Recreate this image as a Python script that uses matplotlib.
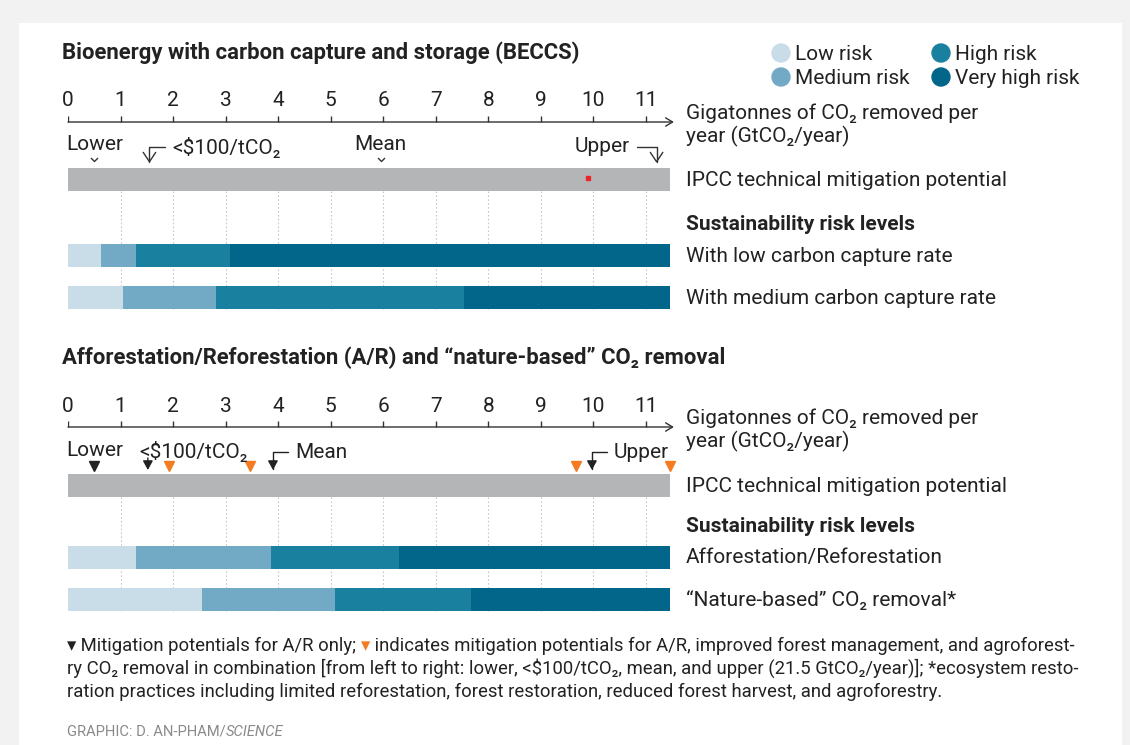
import matplotlib
matplotlib.use("Agg")
import matplotlib.pyplot as plt
from matplotlib.patches import Rectangle, Circle
from matplotlib.path import Path
from matplotlib.markers import MarkerStyle

plt.rcParams['font.family'] = ['Roboto', 'DejaVu Sans']

# Data (GtCO2/year)___________________________________________________________________
ticks = list(range(0, 12))
axis_max = 11.45
risk_names = ["Low risk", "Medium risk", "High risk", "Very high risk"]
risk_colors = ["#c9dde8", "#72aac6", "#19809f", "#02668a"]

beccs_rows = ["With low carbon capture rate", "With medium carbon capture rate"]
beccs_low_capture = [0.62, 1.30, 3.09, 11.45]
beccs_med_capture = [1.04, 2.81, 7.54, 11.45]
beccs_lower, beccs_100, beccs_mean, beccs_upper = 0.5, 1.55, 5.95, 11.2
beccs_dot = 9.9

ar_rows = ["Afforestation/Reforestation", "\u201cNature-based\u201d CO\u2082 removal*"]
ar_bounds = [1.29, 3.87, 6.30, 11.45]
nature_bounds = [2.55, 5.08, 7.66, 11.45]
ar_lower, ar_100, ar_mean, ar_upper = 0.5, 1.52, 3.90, 9.97
combo_marks = [1.93, 3.47, 9.66, 11.45]

ink = "#222222"
orange = "#f47b20"
gray_bar = "#b4b5b7"
fs = 15

# Figure with pixel overlay ________________________________________________________
W, H = 1130, 745
fig = plt.figure(figsize=(W / 100, H / 100), dpi=100, facecolor="#f2f2f2")
deco = fig.add_axes([0, 0, 1, 1])
deco.set_xlim(0, W)
deco.set_ylim(H, 0)
deco.axis("off")
deco.add_patch(Rectangle((19, 23), 1103, 730, facecolor="white", edgecolor="none"))

x0, unit = 68, 52.55
ax = fig.add_axes([x0 / W, 0, 12 * unit / W, 1])
ax.set_xlim(0, 12)
ax.set_ylim(H, 0)
ax.axis("off")
px = deco.transData

chev = MarkerStyle(Path([(-1, 1), (0, 0), (1, 1)], [Path.MOVETO, Path.LINETO, Path.LINETO]),
                   fillstyle="none")


def draw_axis(title, y_title, y_axis):
    deco.text(62, y_title, title, fontsize=15.9, weight="bold", va="center", color=ink)
    for t in ticks:
        ax.text(t, y_axis - 21, str(t), ha="center", va="center", fontsize=fs, color=ink)
    ax.vlines(ticks, y_axis - 6, y_axis, color="#333333", lw=1)
    ax.annotate("", xy=(11.53, y_axis), xytext=(0, y_axis),
                arrowprops=dict(arrowstyle="->,head_length=0.5,head_width=0.3", color="#333333",
                                lw=1, shrinkA=0, shrinkB=0))
    deco.text(686, y_axis + 3, "Gigatonnes of CO\u2082 removed per\nyear (GtCO\u2082/year)",
              va="center", fontsize=fs, color=ink, linespacing=1.2)


def draw_bars(gray_y, sus_y, row_ys, rows, bounds_list):
    ax.barh(gray_y, axis_max, left=0, height=23, color=gray_bar, zorder=2)
    deco.text(686, gray_y + 1, "IPCC technical mitigation potential", va="center", fontsize=fs, color=ink)
    deco.text(686, sus_y, "Sustainability risk levels", va="center", fontsize=fs, weight="semibold", color=ink)
    ax.vlines(ticks[1:], gray_y + 11.5, row_ys[-1] + 11.5, colors="#c8c8c8",
              linestyles=(0, (1.5, 2)), lw=0.8, zorder=1)
    for y, name, bounds in zip(row_ys, rows, bounds_list):
        lefts = [0] + bounds[:-1]
        widths = [b - l for b, l in zip(bounds, lefts)]
        ax.barh([y] * 4, widths, left=lefts, height=23, color=risk_colors, zorder=2)
        deco.text(686, y + 1, name, va="center", fontsize=fs, color=ink)


# Panel 1: BECCS _____________________________________________________________________
draw_axis("Bioenergy with carbon capture and storage (BECCS)", 53, 122)
draw_bars(179, 225, [255, 297], beccs_rows, [beccs_low_capture, beccs_med_capture])

open_arrow = dict(arrowstyle="->,head_length=0.45,head_width=0.3", color="#333333", lw=1,
                  connectionstyle="angle,angleA=0,angleB=90,rad=0", shrinkA=3, shrinkB=0)
ax.text(beccs_lower, 145, "Lower", ha="center", va="center", fontsize=fs, color=ink)
ax.plot(beccs_lower, 161, marker=chev, ms=5, mec="#333333", mew=1)
ax.text(beccs_mean, 145, "Mean", ha="center", va="center", fontsize=fs, color=ink)
ax.plot(beccs_mean, 161, marker=chev, ms=5, mec="#333333", mew=1)
ax.annotate("<$100/tCO\u2082", xy=(beccs_100, 163), xytext=(172, 147), textcoords=px,
            ha="left", va="center", fontsize=fs, color=ink,
            arrowprops=dict(open_arrow, relpos=(0, 0.5)))
ax.annotate("Upper", xy=(beccs_upper, 163), xytext=(630, 147), textcoords=px,
            ha="right", va="center", fontsize=fs, color=ink,
            arrowprops=dict(open_arrow, relpos=(1, 0.5)))
ax.plot(beccs_dot, 178, marker="s", ms=2.5, color="#e8262a", zorder=3)

# Panel 2: A/R ________________________________________________________________________
draw_axis("Afforestation/Reforestation (A/R) and \u201cnature-based\u201d CO\u2082 removal", 358, 427)
draw_bars(485, 527, [557, 599], ar_rows, [ar_bounds, nature_bounds])

solid_arrow = dict(arrowstyle="-|>,head_length=0.55,head_width=0.3", color="#222222", lw=1,
                   connectionstyle="angle,angleA=0,angleB=90,rad=0", shrinkA=3, shrinkB=0,
                   mutation_scale=10)
ax.text(ar_lower, 451, "Lower", ha="center", va="center", fontsize=fs, color=ink)
ax.plot(ar_lower, 466, marker="v", ms=6.5, color="#222222", lw=0)
ax.text(139, 451, "<$100/tCO\u2082", transform=px, ha="left", va="center", fontsize=fs, color=ink)
ax.annotate("", xy=(ar_100, 470), xytext=(ar_100, 458),
            arrowprops=dict(solid_arrow, connectionstyle="arc3", shrinkA=0))
ax.annotate("Mean", xy=(ar_mean, 470), xytext=(295, 452), textcoords=px,
            ha="left", va="center", fontsize=fs, color=ink,
            arrowprops=dict(solid_arrow, relpos=(0, 0.5)))
ax.annotate("Upper", xy=(ar_upper, 470), xytext=(614, 452), textcoords=px,
            ha="left", va="center", fontsize=fs, color=ink,
            arrowprops=dict(solid_arrow, relpos=(0, 0.5)))
ax.plot(combo_marks, [466] * len(combo_marks), "v", ms=6.5, color=orange)

# Legend ______________________________________________________________________________
leg_pos = [(781, 53), (781, 77), (941, 53), (941, 77)]
for (lx, ly), name, c in zip(leg_pos, risk_names, risk_colors):
    deco.add_patch(Circle((lx, ly), 9, color=c))
    deco.text(lx + 14, ly + 1, name, va="center", fontsize=fs, color=ink)

# Footnote ____________________________________________________________________________
fn = 13.35
t = deco.text(67, 651, "\u25be", fontsize=fn, color=ink, va="baseline")
for s, c in [(" Mitigation potentials for A/R only; ", ink), ("\u25be", orange),
             (" indicates mitigation potentials for A/R, improved forest management, and agroforest-", ink)]:
    t = deco.annotate(s, xy=(1, 651), xycoords=(t, "data"), fontsize=fn, color=c, va="baseline")
deco.text(67, 674, "ry CO\u2082 removal in combination [from left to right: lower, <$100/tCO\u2082, mean, "
          "and upper (21.5 GtCO\u2082/year)]; *ecosystem resto-", fontsize=fn, color=ink, va="baseline")
deco.text(67, 697, "ration practices including limited reforestation, forest restoration, reduced forest "
          "harvest, and agroforestry.", fontsize=fn, color=ink, va="baseline")
t = deco.text(67, 736, "GRAPHIC: D. AN-PHAM/", fontsize=10.6, color="#8a8a8a", va="baseline")
deco.annotate("SCIENCE", xy=(1, 736), xycoords=(t, "data"), fontsize=10.6, color="#8a8a8a",
              style="italic", va="baseline")

fig.savefig("out.png", dpi=100, facecolor=fig.get_facecolor())
